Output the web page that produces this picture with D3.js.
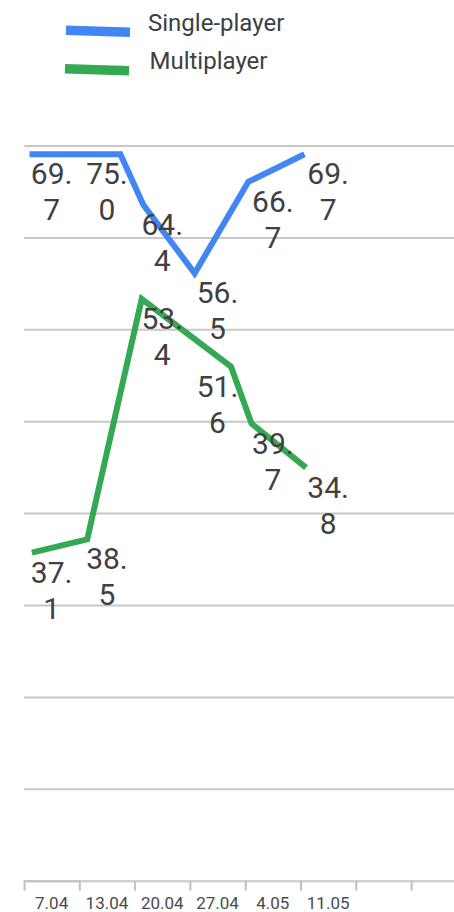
<!DOCTYPE html>
<html><head><meta charset="utf-8">
<script src="https://cdn.jsdelivr.net/npm/d3@7"></script>
<style>html,body{margin:0;padding:0;background:#fff;} svg{display:block;}</style>
</head><body>
<svg id="chart" width="454" height="912"></svg>
<script>
const seriesNames = ["Single-player", "Multiplayer"];
const seriesColors = ["#4285f4", "#34a853"];
const tickLabels = ["7.04", "13.04", "20.04", "27.04", "4.05", "11.05"];
const tickDays = [0, 7, 14, 21, 28, 35, 42, 49, 56, 63];
const gridValues = [-10, 0, 10, 20, 30, 40, 50, 60, 70];
const singleDays = [0.7, 12.2, 15.1, 21.6, 28.4, 35.5];
const singleValues = [69.1, 69.1, 63.6, 56.15, 66.1, 69.1];
const singleLabels = ["69.7", "75.0", "64.4", "56.5", "66.7", "69.7"];
const multiDays = [1.0, 8.0, 14.9, 26.2, 28.8, 35.7];
const multiValues = [25.75, 27.2, 53.35, 46.0, 39.8, 35.0];
const multiLabels = ["37.1", "38.5", "53.4", "51.6", "39.7", "34.8"];

const svg = d3.select("#chart");
const W = 454;
const x = d3.scaleLinear().domain([0, 7]).range([24, 79.3]);
const y = d3.scaleLinear().domain([-10, 70]).range([881.2, 146]);

// legend
const leg = svg.append("g");
seriesNames.forEach((name, i) => {
  const cy = 30.3 + 38.4 * i;
  leg.append("line").attr("x1", 66 - i).attr("x2", 130 - i)
    .attr("y1", cy).attr("y2", cy + 2)
    .attr("stroke", seriesColors[i]).attr("stroke-width", 9.5);
  leg.append("text").attr("x", 148 + 1.5 * i).attr("y", 31 + 38.3 * i)
    .attr("font-family", "Roboto, Arial, sans-serif").attr("font-size", 24)
    .attr("fill", "#3c4043").text(name);
});

// gridlines
svg.append("g").selectAll("line").data(gridValues).join("line")
  .attr("x1", x(0)).attr("x2", W + 20)
  .attr("y1", d => y(d)).attr("y2", d => y(d))
  .attr("stroke", "#c8c8c8").attr("stroke-width", 2);

// x axis
const axis = svg.append("g").attr("transform", `translate(0,${y(-10) - 0.5})`)
  .call(d3.axisBottom(x).tickValues(tickDays).tickSize(10).tickSizeOuter(0).tickFormat(""));
axis.select(".domain").attr("stroke", "#c0c0c0").attr("stroke-width", 2);
axis.selectAll(".tick line").attr("stroke", "#c0c0c0").attr("stroke-width", 2);

svg.append("g").selectAll("text").data(tickLabels).join("text")
  .attr("x", (d, i) => x(7 * i + 3.5)).attr("y", 909)
  .attr("text-anchor", "middle")
  .attr("font-family", "Roboto, Arial, sans-serif").attr("font-size", 17)
  .attr("fill", "#4a4a4a").text(d => d);

// lines
const series = [
  {days: singleDays, values: singleValues, labels: singleLabels, color: seriesColors[0]},
  {days: multiDays, values: multiValues, labels: multiLabels, color: seriesColors[1]}
];
const line = d3.line().x(d => x(d[0])).y(d => y(d[1]));
series.forEach(s => {
  const pts = s.days.map((d, i) => [d, s.values[i]]);
  svg.append("path").datum(pts).attr("d", line)
    .attr("fill", "none").attr("stroke", s.color).attr("stroke-width", 6)
    .attr("stroke-linejoin", "miter");
});

// data labels
series.forEach(s => {
  s.labels.forEach((lab, i) => {
    const parts = lab.split(/(?<=\.)/);
    const cx = x(7 * i + 3.5);
    const t = svg.append("text")
      .attr("font-family", "Roboto, Arial, sans-serif").attr("font-size", 30)
      .attr("fill", "#404040").attr("text-anchor", "middle");
    parts.forEach((p, j) => {
      t.append("tspan").attr("x", cx).attr("y", y(s.values[i]) + 30 + 36 * j).text(p);
    });
  });
});
</script>
</body></html>
